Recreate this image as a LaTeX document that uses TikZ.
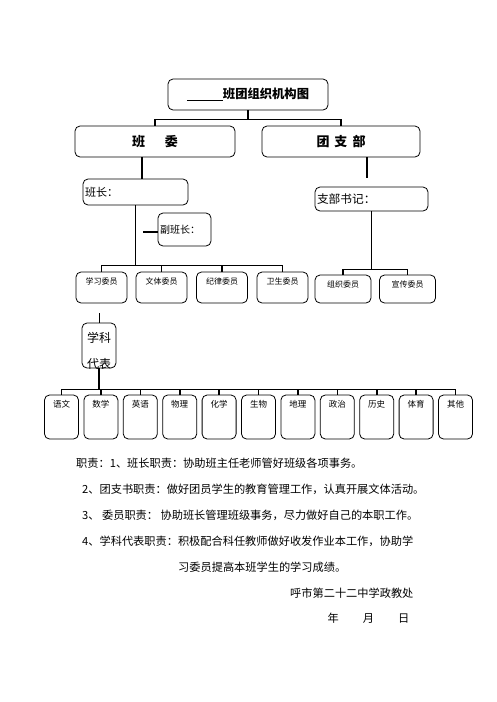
\documentclass[tikz,border=0pt]{standalone}
\usepackage{fontspec}
\setmainfont{Noto Sans CJK SC}
\usetikzlibrary{calc}

\tikzset{
  box/.style={draw, rounded corners=5pt, line width=0.8pt, inner sep=2pt},
  head/.style={box, align=left},
  member/.style={box, text height=10pt, inner ysep=2pt, font=\fontsize{8}{10}\selectfont},
  subject/.style={box, minimum width=34pt, text height=10pt, text depth=30pt, inner ysep=2pt, font=\fontsize{8.5}{10}\selectfont},
  link/.style={line width=1.6pt},
  duty/.style={anchor=west, inner sep=0pt, font=\fontsize{11.2}{13}\selectfont},
}

\begin{document}
\begin{tikzpicture}[x=1pt, y=-1pt]
    \useasboundingbox (0,0) rectangle (496,702);

    % the title and the two main boxes
    \node[box, minimum width=160pt, minimum height=31pt, font=\bfseries\fontsize{12.3}{14}\selectfont] (title) at (248,94.5) {\underline{\hspace{36pt}}班团组织机构图};
    \node[box, minimum width=160pt, minimum height=31pt, font=\bfseries\fontsize{13}{15}\selectfont] (bw) at (155,141.5) {班\hspace{20pt}委\hspace{33pt}};
    \node[box, minimum width=158pt, minimum height=31pt, font=\bfseries\fontsize{13}{15}\selectfont] (tzb) at (341,141.5) {团\hspace{5pt}支\hspace{5pt}部};

    % the heads
    \node[head, text width=101pt, minimum height=26pt, font=\fontsize{11}{13}\selectfont] (bz) at (135.5,192) {班长：};
    \node[head, text width=49pt, minimum height=33pt, font=\fontsize{10}{12}\selectfont] (fbz) at (184.5,229.5) {副班长：};
    \node[head, text width=109pt, minimum height=24pt, font=\fontsize{11.7}{14}\selectfont] (sj) at (371.5,199) {支部书记：};

    % the members
    \node[member, minimum width=51pt, text depth=17pt] (xx) at (101.5,287.5) {学习委员};
    \node[member, minimum width=51pt, text depth=17pt] (wt) at (161.5,287.5) {文体委员};
    \node[member, minimum width=51pt, text depth=17pt] (jl) at (222,287.5) {纪律委员};
    \node[member, minimum width=51pt, text depth=17pt] (ws) at (282.5,287.5) {卫生委员};
    %
    \node[member, minimum width=56pt, text depth=14pt] (zz) at (343,289) {组织委员};
    \node[member, minimum width=56pt, text depth=14pt] (xc) at (407.5,289) {宣传委员};

    % the subject representatives (text cut by the box)
    \begin{scope}
        \clip (82,323) rectangle (116,368);
        \node[inner sep=0pt, font=\fontsize{12}{14}\selectfont] (xkt) at (99,338) {学科};
        \node[inner sep=0pt, font=\fontsize{12}{14}\selectfont] (xkb) at (99,364) {代表};
    \end{scope}
    \node[box, minimum width=34pt, minimum height=45pt] (xk) at (99,345.5) {};

    % the subjects
    \foreach \name [count=\i] in {语文,数学,英语,物理,化学,生物,地理,政治,历史,体育,其他}
        \node[subject] (s\i) at ({61.5+39.4*(\i-1)},417) {\name};

    % draw the links
    \draw[link] (title.south) -- ++(0,9) coordinate (tb);
    \draw[link] (bw.north) |- (tb) -| (tzb.north);
    \draw[link] ([xshift=-13pt]bw.south) -- ([xshift=-13pt]bw.south |- bz.north);
    \draw[link] ([xshift=26pt]tzb.south) -- ++(0,21);
    \draw[link] ([yshift=-2.5pt]fbz.west) -- ++(-15,0);
    %
    \draw[link] (bz.south) -- ++(0,60) coordinate (mb);
    \draw[link] (xx.north) |- (mb) -| (ws.north);
    \draw[link] (wt.north) -- (wt.north |- mb);
    \draw[link] (jl.north) -- (jl.north |- mb);
    %
    \draw[link] (sj.south) -- ++(0,58) coordinate (sb);
    \draw[link] (zz.north) |- (sb) -| (xc.north);
    %
    \draw[line width=0.8pt] (xk.north) -- ++(0,-10);
    \draw[line width=2.5pt] (xk.south) -- ++(0,21) coordinate (kb);
    \draw[link] (s1.north) |- (kb) -| (s11.north);
    \foreach \i in {2,...,10}
        \draw[link] (s\i.north) -- (s\i.north |- kb);

    % the duties
    \node[duty] (d1) at (76,463) {职责：1、班长职责：协助班主任老师管好班级各项事务。};
    \node[duty] (d2) at (82,489) {2、团支书职责：做好团员学生的教育管理工作，认真开展文体活动。};
    \node[duty] (d3) at (82,515) {3、\hspace{2.5pt}委员职责：\hspace{2.5pt}协助班长管理班级事务，尽力做好自己的本职工作。};
    \node[duty] (d4) at (82,541) {4、学科代表职责：积极配合科任教师做好收发作业本工作，协助学};
    \node[duty] (d5) at (178,567) {习委员提高本班学生的学习成绩。};
    \node[duty] (sign) at (290,593) {呼市第二十二中学政教处};
    \node[duty] (date) at (327.5,618) {年\hspace{24pt}月\hspace{24pt}日};
\end{tikzpicture}
\end{document}
